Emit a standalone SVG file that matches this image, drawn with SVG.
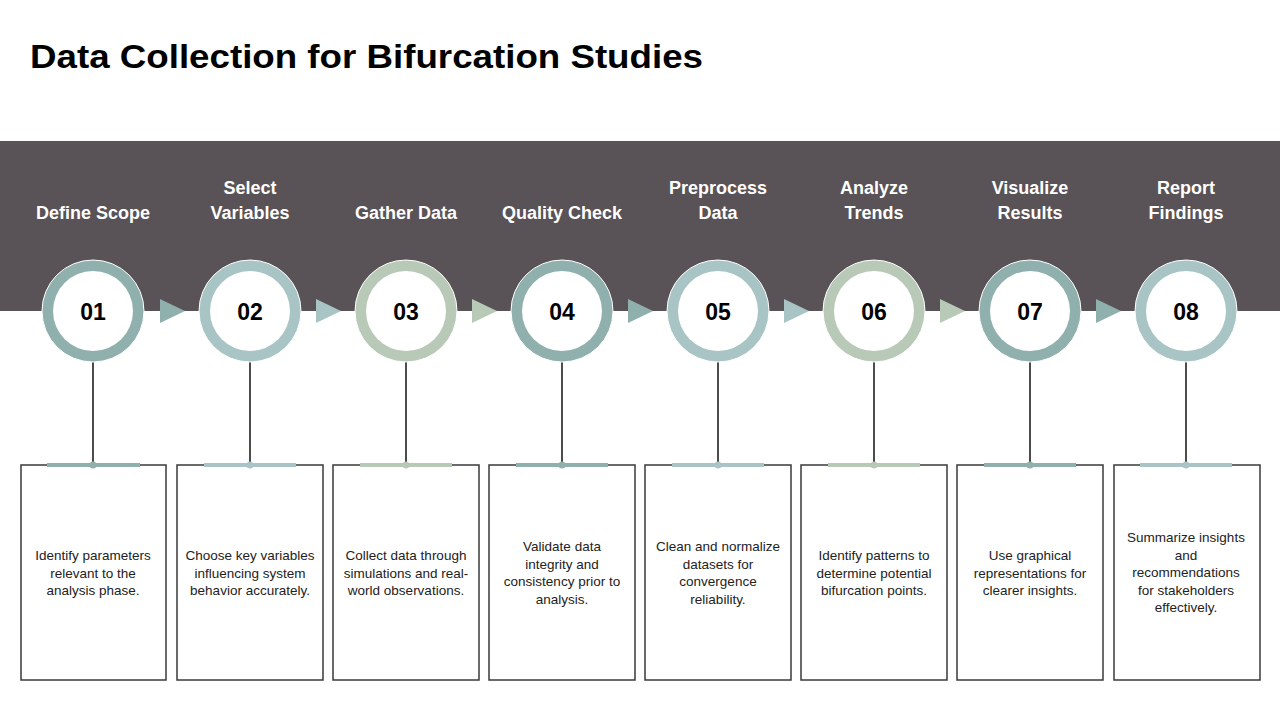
<svg xmlns="http://www.w3.org/2000/svg" width="1280" height="720" viewBox="0 0 1280 720">
<style>
.title{font-family:"Liberation Sans",Arial,sans-serif;font-weight:bold;font-size:33px;fill:#000}
.head{font-family:"Liberation Sans",Arial,sans-serif;font-weight:bold;font-size:18px;fill:#fff;text-anchor:middle}
.num{font-family:"Liberation Sans",Arial,sans-serif;font-weight:bold;font-size:23px;fill:#000;text-anchor:middle}
.desc{font-family:"Liberation Sans",Arial,sans-serif;font-size:13.5px;fill:#222;text-anchor:middle}
.box{fill:#fff;stroke:#3a3a3a;stroke-width:1.5}
.stem{stroke:#111;stroke-width:1.5}
.inner{fill:#fff}
.t{fill:#8fb0ad}.l{fill:#a9c4c5}.s{fill:#b8c9b7}
.ts{stroke:#8fb0ad}.ls{stroke:#a9c4c5}.ss{stroke:#b8c9b7}
</style>
<rect width="1280" height="720" fill="#fff"/>
<text class="title" x="30" y="68" textLength="673" lengthAdjust="spacingAndGlyphs">Data Collection for Bifurcation Studies</text>
<rect x="0" y="141" width="1280" height="170" fill="#595256"/>
<g id="connectors">
<polygon class="t" points="160,299 185,311 160,323"/>
<polygon class="l" points="316,299 341,311 316,323"/>
<polygon class="s" points="472,299 497,311 472,323"/>
<polygon class="t" points="628,299 653,311 628,323"/>
<polygon class="l" points="784,299 809,311 784,323"/>
<polygon class="s" points="940,299 965,311 940,323"/>
<polygon class="t" points="1096,299 1121,311 1096,323"/>
<line class="stem" x1="93" y1="362" x2="93" y2="465"/>
<line class="stem" x1="250" y1="362" x2="250" y2="465"/>
<line class="stem" x1="406" y1="362" x2="406" y2="465"/>
<line class="stem" x1="562" y1="362" x2="562" y2="465"/>
<line class="stem" x1="718" y1="362" x2="718" y2="465"/>
<line class="stem" x1="874" y1="362" x2="874" y2="465"/>
<line class="stem" x1="1030" y1="362" x2="1030" y2="465"/>
<line class="stem" x1="1186" y1="362" x2="1186" y2="465"/>
</g>
<g id="step1">
<text class="head" x="93" y="219">Define Scope</text>
<circle class="t" cx="93" cy="311" r="51" stroke="#fff" stroke-width="1"/><circle class="inner" cx="93" cy="311" r="40"/>
<text class="num" x="93" y="320">01</text>
<rect class="box" x="21" y="465" width="145" height="215"/>
<line class="ts" x1="47" y1="465" x2="140" y2="465" stroke-width="4"/><circle class="t" cx="93" cy="465" r="3.5"/>
<text class="desc" y="560"><tspan x="93">Identify parameters</tspan><tspan x="93" dy="17.5">relevant to the</tspan><tspan x="93" dy="17.5">analysis phase.</tspan></text>
</g>
<g id="step2">
<text class="head" x="250" y="194">Select</text><text class="head" x="250" y="219">Variables</text>
<circle class="l" cx="250" cy="311" r="51" stroke="#fff" stroke-width="1"/><circle class="inner" cx="250" cy="311" r="40"/>
<text class="num" x="250" y="320">02</text>
<rect class="box" x="177" y="465" width="146" height="215"/>
<line class="ls" x1="204" y1="465" x2="296" y2="465" stroke-width="4"/><circle class="l" cx="250" cy="465" r="3.5"/>
<text class="desc" y="560"><tspan x="250">Choose key variables</tspan><tspan x="250" dy="17.5">influencing system</tspan><tspan x="250" dy="17.5">behavior accurately.</tspan></text>
</g>
<g id="step3">
<text class="head" x="406" y="219">Gather Data</text>
<circle class="s" cx="406" cy="311" r="51" stroke="#fff" stroke-width="1"/><circle class="inner" cx="406" cy="311" r="40"/>
<text class="num" x="406" y="320">03</text>
<rect class="box" x="333" y="465" width="146" height="215"/>
<line class="ss" x1="360" y1="465" x2="452" y2="465" stroke-width="4"/><circle class="s" cx="406" cy="465" r="3.5"/>
<text class="desc" y="560"><tspan x="406">Collect data through</tspan><tspan x="406" dy="17.5">simulations and real-</tspan><tspan x="406" dy="17.5">world observations.</tspan></text>
</g>
<g id="step4">
<text class="head" x="562" y="219">Quality Check</text>
<circle class="t" cx="562" cy="311" r="51" stroke="#fff" stroke-width="1"/><circle class="inner" cx="562" cy="311" r="40"/>
<text class="num" x="562" y="320">04</text>
<rect class="box" x="489" y="465" width="146" height="215"/>
<line class="ts" x1="516" y1="465" x2="608" y2="465" stroke-width="4"/><circle class="t" cx="562" cy="465" r="3.5"/>
<text class="desc" y="551"><tspan x="562">Validate data</tspan><tspan x="562" dy="17.5">integrity and</tspan><tspan x="562" dy="17.5">consistency prior to</tspan><tspan x="562" dy="17.5">analysis.</tspan></text>
</g>
<g id="step5">
<text class="head" x="718" y="194">Preprocess</text><text class="head" x="718" y="219">Data</text>
<circle class="l" cx="718" cy="311" r="51" stroke="#fff" stroke-width="1"/><circle class="inner" cx="718" cy="311" r="40"/>
<text class="num" x="718" y="320">05</text>
<rect class="box" x="645" y="465" width="146" height="215"/>
<line class="ls" x1="672" y1="465" x2="764" y2="465" stroke-width="4"/><circle class="l" cx="718" cy="465" r="3.5"/>
<text class="desc" y="551"><tspan x="718">Clean and normalize</tspan><tspan x="718" dy="17.5">datasets for</tspan><tspan x="718" dy="17.5">convergence</tspan><tspan x="718" dy="17.5">reliability.</tspan></text>
</g>
<g id="step6">
<text class="head" x="874" y="194">Analyze</text><text class="head" x="874" y="219">Trends</text>
<circle class="s" cx="874" cy="311" r="51" stroke="#fff" stroke-width="1"/><circle class="inner" cx="874" cy="311" r="40"/>
<text class="num" x="874" y="320">06</text>
<rect class="box" x="801" y="465" width="146" height="215"/>
<line class="ss" x1="828" y1="465" x2="920" y2="465" stroke-width="4"/><circle class="s" cx="874" cy="465" r="3.5"/>
<text class="desc" y="560"><tspan x="874">Identify patterns to</tspan><tspan x="874" dy="17.5">determine potential</tspan><tspan x="874" dy="17.5">bifurcation points.</tspan></text>
</g>
<g id="step7">
<text class="head" x="1030" y="194">Visualize</text><text class="head" x="1030" y="219">Results</text>
<circle class="t" cx="1030" cy="311" r="51" stroke="#fff" stroke-width="1"/><circle class="inner" cx="1030" cy="311" r="40"/>
<text class="num" x="1030" y="320">07</text>
<rect class="box" x="957" y="465" width="146" height="215"/>
<line class="ts" x1="984" y1="465" x2="1076" y2="465" stroke-width="4"/><circle class="t" cx="1030" cy="465" r="3.5"/>
<text class="desc" y="560"><tspan x="1030">Use graphical</tspan><tspan x="1030" dy="17.5">representations for</tspan><tspan x="1030" dy="17.5">clearer insights.</tspan></text>
</g>
<g id="step8">
<text class="head" x="1186" y="194">Report</text><text class="head" x="1186" y="219">Findings</text>
<circle class="l" cx="1186" cy="311" r="51" stroke="#fff" stroke-width="1"/><circle class="inner" cx="1186" cy="311" r="40"/>
<text class="num" x="1186" y="320">08</text>
<rect class="box" x="1114" y="465" width="146" height="215"/>
<line class="ls" x1="1140" y1="465" x2="1232" y2="465" stroke-width="4"/><circle class="l" cx="1186" cy="465" r="3.5"/>
<text class="desc" y="542"><tspan x="1186">Summarize insights</tspan><tspan x="1186" dy="17.5">and</tspan><tspan x="1186" dy="17.5">recommendations</tspan><tspan x="1186" dy="17.5">for stakeholders</tspan><tspan x="1186" dy="17.5">effectively.</tspan></text>
</g>
</svg>
